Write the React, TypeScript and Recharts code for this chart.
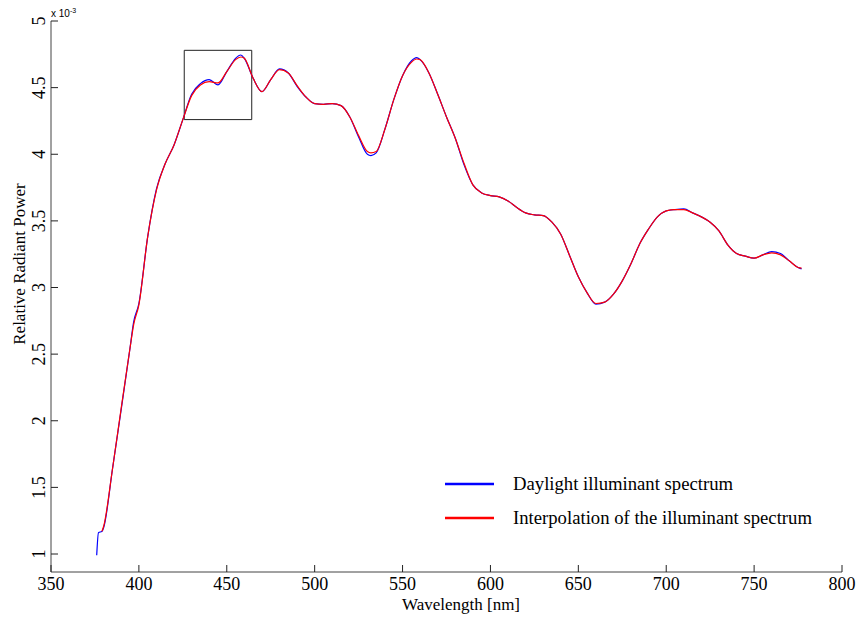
import { LineChart, Line, XAxis, YAxis, ReferenceArea, Legend } from 'recharts'

// wavelength samples (nm) shared by both curves
const wavelengths = [
  376, 377, 379, 380, 385, 390, 395, 397, 400, 405, 410, 415, 420, 425, 430, 435, 440, 445, 450, 455,
  458, 460, 465, 470, 475, 480, 485, 490, 495, 500, 505, 510, 515, 520, 525, 530, 532, 535, 540, 545,
  550, 555, 558, 560, 565, 570, 575, 580, 585, 590, 595, 600, 605, 610, 615, 620, 625, 630, 635, 640,
  645, 650, 655, 660, 665, 670, 675, 680, 685, 690, 695, 700, 705, 710, 715, 720, 725, 730, 735, 740,
  745, 750, 755, 760, 765, 770, 775, 777,
]

// relative radiant power, x 10^-3
const daylight = [
  0.99, 1.16, 1.17, 1.2, 1.64, 2.09, 2.55, 2.74, 2.88, 3.38, 3.74, 3.93, 4.07, 4.26, 4.45, 4.53, 4.56, 4.52, 4.62, 4.72,
  4.745, 4.72, 4.57, 4.47, 4.56, 4.64, 4.61, 4.51, 4.43, 4.38, 4.375, 4.38, 4.365, 4.28, 4.13, 4.0, 3.99, 4.01, 4.19, 4.41,
  4.59, 4.7, 4.725, 4.71, 4.61, 4.45, 4.28, 4.12, 3.92, 3.77, 3.71, 3.69, 3.68, 3.65, 3.6, 3.56, 3.545, 3.54, 3.49, 3.4,
  3.24, 3.08, 2.96, 2.875, 2.89, 2.95, 3.05, 3.18, 3.33, 3.44, 3.53, 3.575, 3.585, 3.59, 3.56, 3.53, 3.49, 3.425, 3.32, 3.255,
  3.235, 3.22, 3.245, 3.27, 3.255, 3.2, 3.15, 3.14,
]

const interpolated = [
  null, null, 1.17, 1.21, 1.64, 2.1, 2.55, 2.72, 2.87, 3.38, 3.73, 3.93, 4.07, 4.26, 4.44, 4.52, 4.545, 4.535, 4.62, 4.71,
  4.73, 4.72, 4.57, 4.47, 4.56, 4.635, 4.61, 4.515, 4.43, 4.38, 4.375, 4.38, 4.365, 4.28, 4.14, 4.02, 4.01, 4.02, 4.19, 4.41,
  4.59, 4.69, 4.715, 4.71, 4.61, 4.45, 4.28, 4.12, 3.93, 3.77, 3.71, 3.69, 3.68, 3.65, 3.6, 3.56, 3.545, 3.54, 3.49, 3.4,
  3.24, 3.08, 2.96, 2.88, 2.89, 2.95, 3.05, 3.18, 3.33, 3.44, 3.53, 3.575, 3.585, 3.585, 3.56, 3.53, 3.49, 3.425, 3.32, 3.255,
  3.235, 3.22, 3.245, 3.26, 3.245, 3.2, 3.15, 3.145,
]

const xTicks = [350, 400, 450, 500, 550, 600, 650, 700, 750, 800]
const yTicks = [1, 1.5, 2, 2.5, 3, 3.5, 4, 4.5, 5]

// zoomed region marker
const boxX = [425.8, 464.2]
const boxY = [4.26, 4.78]

const data = wavelengths.map((w, i) => ({ w, daylight: daylight[i], interp: interpolated[i] }))

const SERIF = "'Times New Roman', 'Liberation Serif', serif"
const TICK = '#222'

const BottomTick = ({ x, y, payload }: any) => (
  <g>
    <line x1={x} x2={x} y1={y} y2={y - 7} stroke={TICK} />
    <text x={x} y={y + 18} textAnchor="middle" fontFamily={SERIF} fontSize={18} fill="#000">{payload.value}</text>
  </g>
)

const TopTick = ({ x, y }: any) => <line x1={x} x2={x} y1={y} y2={y + 7} stroke={TICK} />

const LeftTick = ({ x, y, payload }: any) => (
  <g>
    <line x1={x} x2={x + 7} y1={y} y2={y} stroke={TICK} />
    <text x={x - 6} y={y} transform={`rotate(-90, ${x - 6}, ${y})`} textAnchor="middle"
      fontFamily={SERIF} fontSize={18} fill="#000">{payload.value}</text>
  </g>
)

const RightTick = ({ x, y }: any) => <line x1={x} x2={x - 8} y1={y} y2={y} stroke={TICK} />

const LegendBox = ({ payload }: any) => (
  <div style={{ fontFamily: SERIF, fontSize: 18.7, color: '#000' }}>
    {(payload || []).map((p: any) => (
      <div key={p.value} style={{ display: 'flex', alignItems: 'center', height: 34 }}>
        <svg width={49} height={4} style={{ marginRight: 19 }}>
          <line x1={0} x2={49} y1={2} y2={2} stroke={p.color} strokeWidth={2.5} />
        </svg>
        <span>{p.value}</span>
      </div>
    ))}
  </div>
)

export default function App() {
  return (
    <div style={{ position: 'absolute', left: 0, top: 0, width: 858, height: 617, background: '#fff' }}>
      <LineChart width={858} height={617} data={data} margin={{ top: 21, right: 16, bottom: 0, left: 0 }}>
        <XAxis dataKey="w" type="number" domain={[350, 800]} ticks={xTicks} allowDataOverflow
          height={45} tickSize={0} tickMargin={0} tick={<BottomTick />} tickLine={false}
          axisLine={{ stroke: '#444' }} />
        <XAxis xAxisId="top" orientation="top" dataKey="w" type="number" domain={[350, 800]} ticks={xTicks}
          height={0} tickSize={0} tickMargin={0} tick={<TopTick />} tickLine={false} axisLine={{ stroke: '#444' }} />
        <YAxis type="number" domain={[0.865, 5]} ticks={yTicks} allowDataOverflow width={51}
          tickSize={0} tickMargin={0} tick={<LeftTick />} tickLine={false} axisLine={{ stroke: '#444' }} />
        <YAxis yAxisId="right" orientation="right" type="number" domain={[0.865, 5]} ticks={yTicks} width={0}
          tickSize={0} tickMargin={0} tick={<RightTick />} tickLine={false} axisLine={{ stroke: '#444' }} />
        <ReferenceArea x1={boxX[0]} x2={boxX[1]} y1={boxY[0]} y2={boxY[1]} fill="none" stroke="#222" strokeWidth={1} />
        <Line dataKey="daylight" name="Daylight illuminant spectrum" type="monotone" stroke="#0000ff"
          strokeWidth={1.2} dot={false} isAnimationActive={false} />
        <Line dataKey="interp" name="Interpolation of the illuminant spectrum" type="monotone" stroke="#ff0000"
          strokeWidth={1.2} dot={false} isAnimationActive={false} />
        <Legend layout="vertical" align="center" verticalAlign="middle" content={<LegendBox />}
          wrapperStyle={{ left: 445, top: 467, width: 400, height: 70 }} />
      </LineChart>

      <div style={{ position: 'absolute', left: 51, top: 5, fontFamily: 'Arial, Liberation Sans, sans-serif', fontSize: 10, lineHeight: '12px' }}>
        x 10<span style={{ fontSize: 7, verticalAlign: 4 }}>-3</span>
      </div>
      <div style={{ position: 'absolute', left: 20, top: 264, transform: 'translate(-50%, -50%) rotate(-90deg)',
        whiteSpace: 'nowrap', fontFamily: SERIF, fontSize: 17 }}>
        Relative Radiant Power
      </div>
      <div style={{ position: 'absolute', left: 461, top: 605, transform: 'translate(-50%, -50%)',
        whiteSpace: 'nowrap', fontFamily: SERIF, fontSize: 17, lineHeight: '18px' }}>
        Wavelength [nm]
      </div>
    </div>
  )
}
